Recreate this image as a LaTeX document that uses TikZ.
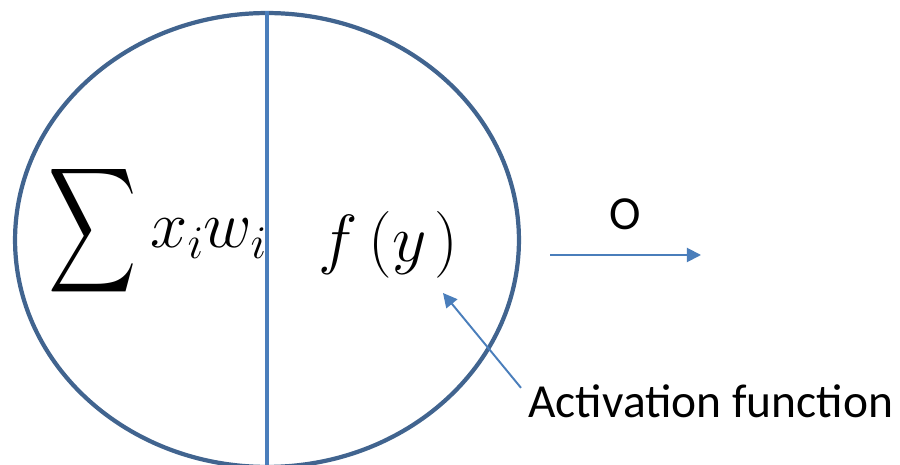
\RequirePackage{fix-cm}
\documentclass[tikz,border=0pt]{standalone}
\usepackage[no-math]{fontspec}
\setmainfont{Carlito}
\usepackage{amsmath}
\usepackage{xcolor}
\usepackage{tikz}
\usetikzlibrary{arrows.meta, positioning, shapes.geometric}
\definecolor{rim}{HTML}{41648F}
\definecolor{wire}{HTML}{4A7EBB}
\tikzset{
	neuron/.style={draw=rim, line width=2.4pt, ellipse, inner sep=0pt,
		minimum width=10.08cm, minimum height=9.08cm},
	divider/.style={draw=wire, line width=2.1pt},
	mathtxt/.style={inner sep=0pt, font=\fontsize{38}{40}\selectfont},
	lbl/.style={inner sep=0pt, text=black, font=\fontsize{27}{31}\selectfont},
	arr/.style={-{Triangle[length=8pt, width=8pt]}, line width=1.1pt, wire},
}

\begin{document}
\begin{tikzpicture}[x=0.02cm, y=-0.02cm]
		\useasboundingbox (0,0) rectangle (900,465);

		\node[neuron] (cell) at (267,240) {};
		\draw[divider] (cell.north) -- (cell.south);

		\node[mathtxt] (sigma) at (93,231) {\scalebox{1.4}[2.0]{$\displaystyle\sum$}};
		\node[mathtxt, anchor=base west] (xw) at (150,248) {$x_i w_i$};
		\node[mathtxt, anchor=base west] (fy) at (318,262) {$f\,(y\mkern2mu)$};

		\coordinate (outstart) at (550,255);
		\coordinate (outend) at (701,255);
		\draw[arr] (outstart) -- node[lbl, above=14pt] (olbl) {O} (outend);

		\node[lbl, anchor=base west] (act) at (528,418) {Activation function};
		\coordinate (acttip) at (443,293);
		\draw[arr] (act.north west) ++(-7,3) coordinate (actfoot) -- (acttip);
	\end{tikzpicture}
\end{document}
